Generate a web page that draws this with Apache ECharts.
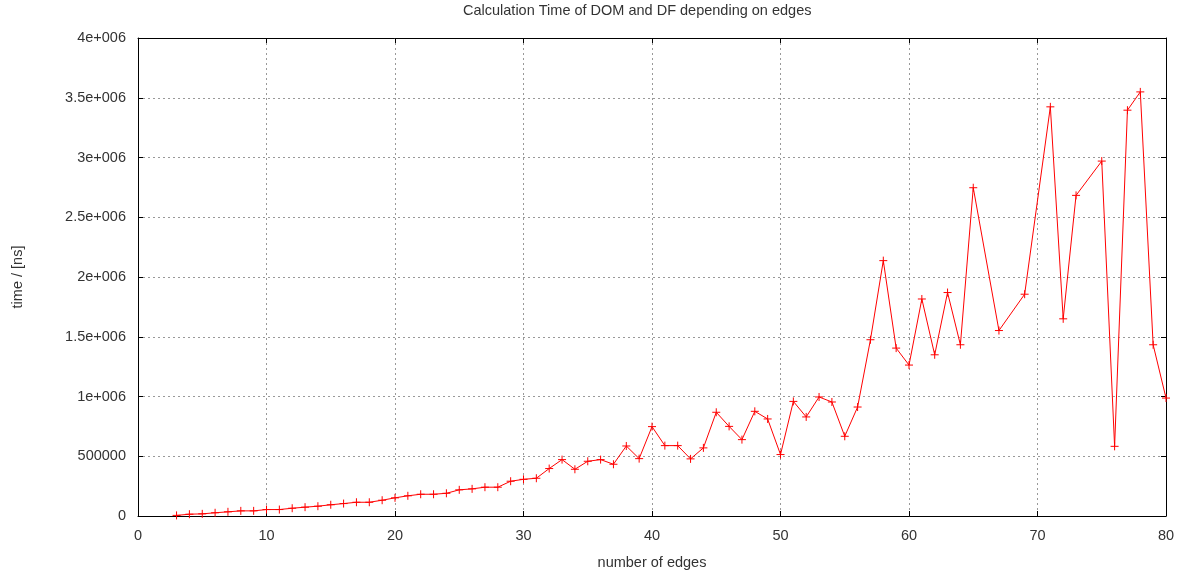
<!DOCTYPE html>
<html>
<head>
    <meta charset="utf-8">
    <title>Calculation Time of DOM and DF</title>
    <script src="https://cdn.jsdelivr.net/npm/echarts@6/dist/echarts.min.js"></script>
    <style>
        html, body { margin: 0; padding: 0; background: #fff; }
        #chart1 { width: 1191px; height: 578px; }
    </style>
</head>
<body>
<div id="chart1"></div>
<script>
    // number of edges (x) and time in ns (y)
    var edges = [3, 4, 5, 6, 7, 8, 9, 10, 11, 12, 13, 14, 15, 16, 17, 18, 19, 20, 21, 22,
        23, 24, 25, 26, 27, 28, 29, 30, 31, 32, 33, 34, 35, 36, 37, 38, 39, 40, 41, 42,
        43, 44, 45, 46, 47, 48, 49, 50, 51, 52, 53, 54, 55, 56, 57, 58, 59, 60, 61, 62,
        63, 64, 65, 67, 69, 71, 72, 73, 75, 76, 77, 78, 79, 80];
    var times = [5000, 15000, 18000, 27000, 35000, 43000, 43000, 54000, 54000, 65000,
        74000, 82000, 94000, 104000, 115000, 115000, 132000, 152000, 169000, 182000,
        182000, 190000, 219000, 227000, 241000, 241000, 291000, 307000, 316000, 397000,
        472000, 391000, 458000, 472000, 433000, 586000, 480000, 748000, 589000, 589000,
        478000, 570000, 868000, 750000, 639000, 876000, 812000, 514000, 959000, 829000,
        996000, 954000, 667000, 912000, 1475000, 2137000, 1405000, 1263000, 1816000, 1349000,
        1870000, 1433000, 2747000, 1552000, 1856000, 3424000, 1650000, 2683000, 2970000, 583000,
        3396000, 3549000, 1433000, 987000];

    var yTickFmt = function (v) {
        if (v === 0) return '0';
        if (v < 1000000) return String(v);
        return (v / 1000000) + 'e+006';
    };

    var points = edges.map(function (e, i) { return [e, times[i]]; });
    var txt = { color: '#333', fontFamily: 'Liberation Sans, Arial, sans-serif', fontSize: 14.5 };
    var grid = { lineStyle: { color: '#999', type: [2, 3], width: 1 } };

    var myChart = echarts.init(document.getElementById('chart1'));
    myChart.setOption({
        animation: false,
        title: {
            text: 'Calculation Time of DOM and DF depending on edges',
            left: 458,
            top: -2,
            textStyle: { color: '#333', fontFamily: 'Liberation Sans, Arial, sans-serif', fontSize: 14.5, fontWeight: 'normal' }
        },
        grid: { left: 138, right: 25, top: 38, bottom: 62, outerBoundsMode: 'none', containLabel: false },
        xAxis: [{
            type: 'value',
            min: 0,
            max: 80,
            interval: 10,
            name: 'number of edges',
            nameLocation: 'middle',
            nameGap: 39,
            nameTextStyle: txt,
            axisLine: { onZero: false, lineStyle: { color: '#000', width: 1 } },
            axisTick: { inside: true, length: 5, lineStyle: { color: '#000' } },
            axisLabel: Object.assign({ margin: 12 }, txt),
            splitLine: grid
        }, {
            type: 'value',
            position: 'top',
            min: 0,
            max: 80,
            interval: 10,
            axisLine: { show: true, onZero: false, lineStyle: { color: '#000', width: 1 } },
            axisTick: { inside: true, length: 5, lineStyle: { color: '#000' } },
            axisLabel: { show: false },
            splitLine: { show: false }
        }],
        yAxis: [{
            type: 'value',
            min: 0,
            max: 4000000,
            interval: 500000,
            name: 'time / [ns]',
            nameLocation: 'middle',
            nameGap: 113,
            nameTextStyle: txt,
            axisLine: { show: true, onZero: false, lineStyle: { color: '#000', width: 1 } },
            axisTick: { show: true, inside: true, length: 5, lineStyle: { color: '#000' } },
            axisLabel: Object.assign({ margin: 12, formatter: yTickFmt }, txt),
            splitLine: grid
        }, {
            type: 'value',
            position: 'right',
            min: 0,
            max: 4000000,
            interval: 500000,
            axisLine: { show: true, onZero: false, lineStyle: { color: '#000', width: 1 } },
            axisTick: { show: true, inside: true, length: 5, lineStyle: { color: '#000' } },
            axisLabel: { show: false },
            splitLine: { show: false }
        }],
        series: [{
            name: 'time',
            type: 'line',
            xAxisIndex: 0,
            yAxisIndex: 0,
            data: points,
            symbol: 'path://M0,5L10,5M5,0L5,10',
            symbolSize: 8,
            showAllSymbol: true,
            lineStyle: { color: '#ff0000', width: 1 },
            itemStyle: { color: '#ff0000', borderColor: '#ff0000', borderWidth: 1 }
        }]
    });
</script>
</body>
</html>
